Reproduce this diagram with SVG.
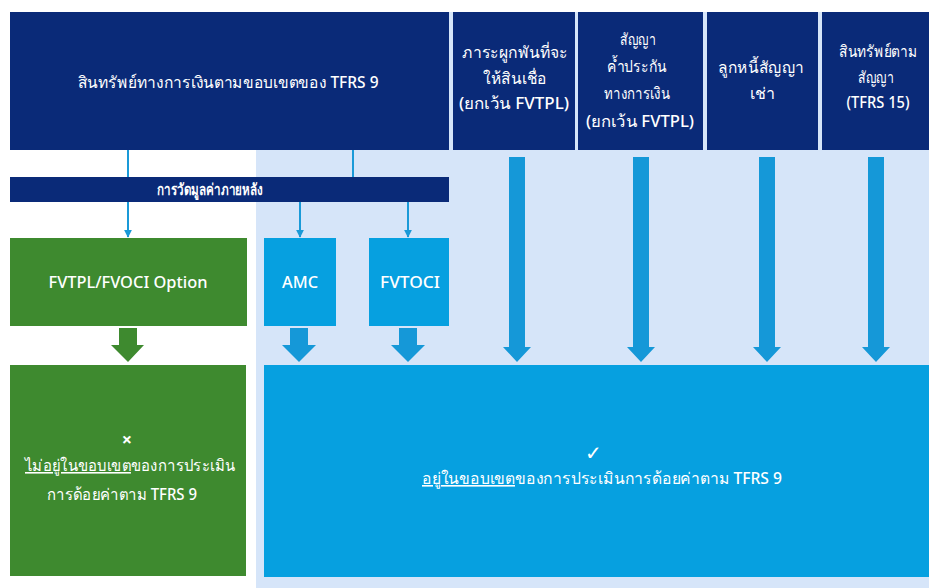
<svg xmlns="http://www.w3.org/2000/svg" width="929" height="588" viewBox="0 0 929 588">
<style>
.navy{fill:#0a2a78}
.green{fill:#3e8a2f}
.blue{fill:#06a0e0}
.t{font-family:"Noto Sans",sans-serif;font-size:16px;fill:#ffffff;text-anchor:middle;font-weight:500}
.b{font-weight:bold}
.l{font-size:16px}
.thin{stroke:#1a9ad8;stroke-width:2;fill:none}
.blk{fill:#1598d8}
.gblk{fill:#3e8a2f}
</style>
<defs>
<marker id="ah" viewBox="0 0 10 10" refX="9" refY="5" markerWidth="4" markerHeight="4" orient="auto" markerUnits="strokeWidth">
<path d="M0,0 L10,5 L0,10 z" fill="#1a9ad8"/>
</marker>
</defs>
<rect x="0" y="0" width="929" height="588" fill="#ffffff"/>
<rect x="256" y="150" width="673" height="438" fill="#d6e5f9"/>
<rect x="449" y="12" width="480" height="140" fill="#d6e5f9"/>

<g id="src">
<rect class="navy" x="10" y="12" width="439" height="138"/>
<text class="t" x="228" y="88" textLength="301" lengthAdjust="spacingAndGlyphs">สินทรัพย์ทางการเงินตามขอบเขตของ TFRS 9</text>
</g>
<g id="h1">
<rect class="navy" x="453" y="12" width="122" height="138"/>
<text class="t" x="515" y="58" textLength="106" lengthAdjust="spacingAndGlyphs">ภาระผูกพันที่จะ</text>
<text class="t" x="515" y="84" textLength="64" lengthAdjust="spacingAndGlyphs">ให้สินเชื่อ</text>
<text class="t" x="514" y="109" textLength="110" lengthAdjust="spacingAndGlyphs">(ยกเว้น FVTPL)</text>
</g>
<g id="h2">
<rect class="navy" x="578" y="12" width="125" height="138"/>
<text class="t" x="638" y="45" textLength="36" lengthAdjust="spacingAndGlyphs">สัญญา</text>
<text class="t" x="637" y="72" textLength="60" lengthAdjust="spacingAndGlyphs">ค้ำประกัน</text>
<text class="t" x="637" y="99" textLength="66" lengthAdjust="spacingAndGlyphs">ทางการเงิน</text>
<text class="t" x="640" y="127" textLength="108" lengthAdjust="spacingAndGlyphs">(ยกเว้น FVTPL)</text>
</g>
<g id="h3">
<rect class="navy" x="707" y="12" width="111" height="138"/>
<text class="t" x="761" y="73" textLength="86" lengthAdjust="spacingAndGlyphs">ลูกหนี้สัญญา</text>
<text class="t" x="762" y="99">เช่า</text>
</g>
<g id="h4">
<rect class="navy" x="822" y="12" width="107" height="138"/>
<text class="t" x="878" y="57" textLength="78" lengthAdjust="spacingAndGlyphs">สินทรัพย์ตาม</text>
<text class="t" x="876" y="83" textLength="36" lengthAdjust="spacingAndGlyphs">สัญญา</text>
<text class="t" x="878" y="108" textLength="63" lengthAdjust="spacingAndGlyphs">(TFRS 15)</text>
</g>
<g id="bar">
<rect class="navy" x="10" y="177" width="439" height="25"/>
<text class="t b" x="210" y="195" textLength="106" lengthAdjust="spacingAndGlyphs">การวัดมูลค่าภายหลัง</text>
</g>
<g id="fvtpl">
<rect class="green" x="10" y="238" width="237" height="88"/>
<text class="t l" x="128" y="288" textLength="159" lengthAdjust="spacingAndGlyphs">FVTPL/FVOCI Option</text>
</g>
<g id="amc">
<rect class="blue" x="264" y="238" width="72" height="88"/>
<text class="t l" x="300" y="288" textLength="36" lengthAdjust="spacingAndGlyphs">AMC</text>
</g>
<g id="fvtoci">
<rect class="blue" x="369" y="238" width="80" height="88"/>
<text class="t l" x="410" y="288" textLength="60" lengthAdjust="spacingAndGlyphs">FVTOCI</text>
</g>
<g id="out">
<rect class="green" x="10" y="365" width="236" height="211"/>
<text class="t b" x="127" y="446" style="font-size:18px">×</text>
<text class="t" x="130" y="471" textLength="210" lengthAdjust="spacingAndGlyphs"><tspan text-decoration="underline">ไม่อยู่ในขอบเขต</tspan>ของการประเมิน</text>
<text class="t" x="122" y="500" textLength="150" lengthAdjust="spacingAndGlyphs">การด้อยค่าตาม TFRS 9</text>
</g>
<g id="in">
<rect class="blue" x="264" y="365" width="665" height="212"/>
<text class="t" x="593" y="460" style="font-size:20px">✓</text>
<text class="t" x="602" y="484" textLength="360" lengthAdjust="spacingAndGlyphs"><tspan text-decoration="underline">อยู่ในขอบเขต</tspan>ของการประเมินการด้อยค่าตาม TFRS 9</text>
</g>

<g id="connectors">
<line class="thin" x1="128" y1="150" x2="128" y2="177"/>
<line class="thin" x1="353" y1="150" x2="353" y2="177"/>
<line class="thin" x1="128" y1="202" x2="128" y2="237" marker-end="url(#ah)"/>
<line class="thin" x1="300" y1="202" x2="300" y2="237" marker-end="url(#ah)"/>
<line class="thin" x1="408" y1="202" x2="408" y2="237" marker-end="url(#ah)"/>
<path class="gblk" d="M119,328 H137 V345 H144 L128,362 L111,345 H119 Z"/>
<path class="blk" d="M290,328 H308 V345 H316 L299,362 L282,345 H290 Z"/>
<path class="blk" d="M399,328 H417 V345 H425 L408,362 L391,345 H399 Z"/>
<path class="blk" d="M509,157 H525 V347 H531 L517,362 L503,347 H509 Z"/>
<path class="blk" d="M633,157 H649 V347 H655 L641,362 L627,347 H633 Z"/>
<path class="blk" d="M759,157 H775 V347 H781 L767,362 L753,347 H759 Z"/>
<path class="blk" d="M868,157 H884 V347 H890 L876,362 L862,347 H868 Z"/>
</g>
</svg>
